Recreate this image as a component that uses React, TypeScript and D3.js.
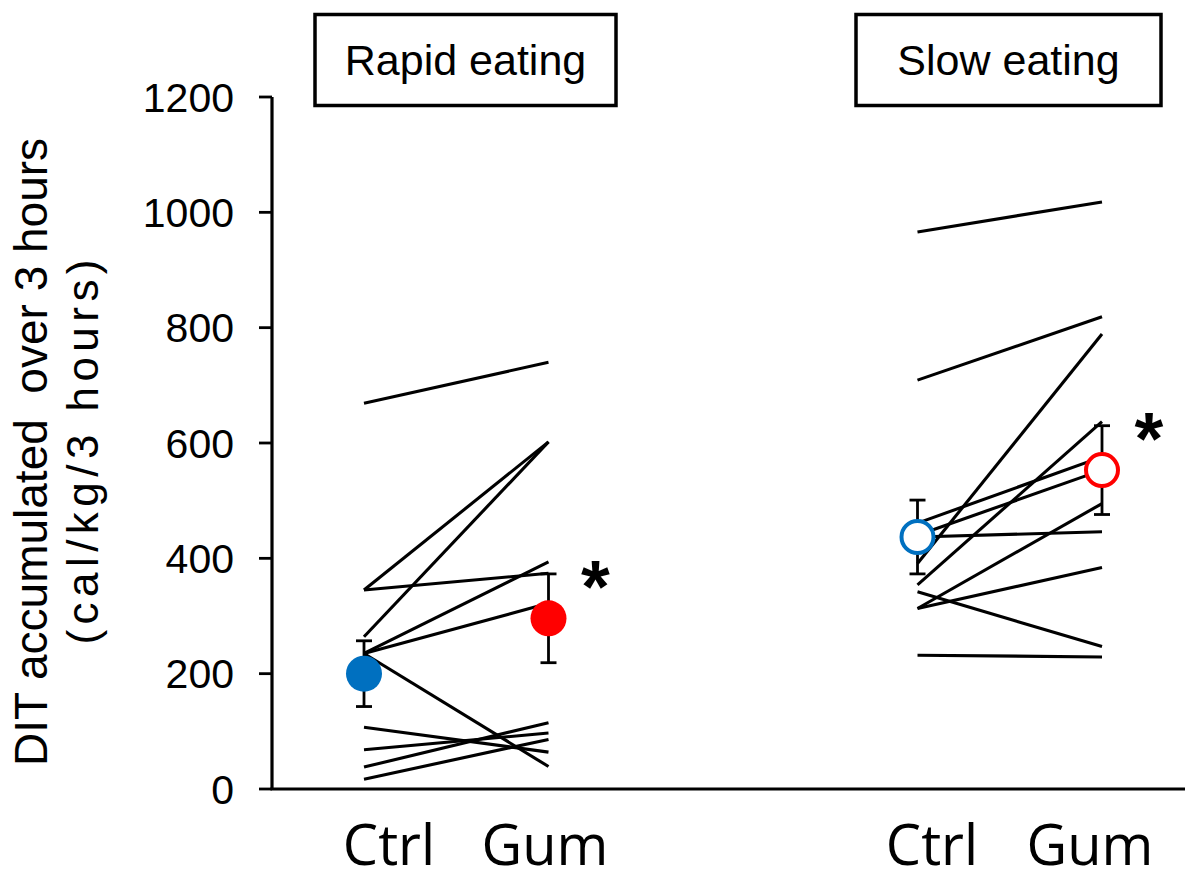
import React from "react";
import * as d3 from "d3";

// ---- data ----
const yTicks = [0, 200, 400, 600, 800, 1000, 1200];
const groupTitles = ["Rapid eating", "Slow eating"];
const conditionLabels = ["Ctrl", "Gum"];

// individual subjects (Ctrl -> Gum)
const rapidCtrl = [669, 345, 345, 264, 235, 235, 235, 107, 68, 38, 17];
const rapidGum = [740, 602, 374, 602, 394, 322, 39, 64, 97, 115, 86];
const slowCtrl = [966, 709, 391, 354, 461, 440, 313, 437, 313, 342, 232];
const slowGum = [1018, 819, 789, 637, 576, 553, 495, 446, 384, 247, 229];

// group means and SE
const meanCtrl = [200, 437];
const meanGum = [296, 553];
const errCtrl = [57, 64];
const errGum = [77, 77];

const W = 1185;
const H = 874;
const FONT = "'Liberation Sans', Arial, sans-serif";
const FONT2 = "'Open Sans', 'Noto Sans', sans-serif";
const BLUE = "#0070C0";
const RED = "#FF0000";

export default function App() {
  const y = d3.scaleLinear().domain([0, 1200]).range([789, 97]);
  const x = d3.scaleLinear().domain([0, 4]).range([364, 1102]);
  const axisX = 272;

  const groups = [
    { ctrl: rapidCtrl, gum: rapidGum, cx: x(0), gx: x(1), filled: true, box: [315, 616], cl: [389, 545] },
    { ctrl: slowCtrl, gum: slowGum, cx: x(3), gx: x(4), filled: false, box: [856, 1161], cl: [932, 1090] },
  ];

  const line = d3.line<[number, number]>().x((d) => d[0]).y((d) => d[1]);

  return (
    <svg width={W} height={H} style={{ position: "absolute", left: 0, top: 0, background: "#fff" }}>
      {/* axes */}
      <line x1={axisX} x2={axisX} y1={y(1200)} y2={y(0)} stroke="#000" strokeWidth={3.2} />
      <line x1={axisX - 1.6} x2={W} y1={y(0)} y2={y(0)} stroke="#000" strokeWidth={3.2} />
      {yTicks.map((t) => (
        <g key={t}>
          <line x1={axisX - 13} x2={axisX} y1={y(t)} y2={y(t)} stroke="#000" strokeWidth={2.8} />
          <text x={234} y={y(t)} dy="0.36em" textAnchor="end" fontFamily={FONT} fontSize={41} fill="#000">
            {t}
          </text>
        </g>
      ))}
      {/* y title */}
      <text transform={`translate(47,452) rotate(-90)`} textAnchor="middle" fontFamily={FONT} fontSize={46} fill="#000" xmlSpace="preserve">
        {"DIT accumulated  over 3 hours"}
      </text>
      <text transform={`translate(98,452) rotate(-90)`} textAnchor="middle" fontFamily={FONT} fontSize={44} fill="#000" textLength={385} lengthAdjust="spacing">
        (cal/kg/3 hours)
      </text>

      {groups.map((g, gi) => (
        <g key={gi}>
          {/* title box */}
          <rect x={g.box[0]} y={14.5} width={g.box[1] - g.box[0]} height={91} fill="#fff" stroke="#000" strokeWidth={3.5} />
          <text x={(g.box[0] + g.box[1]) / 2} y={75} textAnchor="middle" fontFamily={FONT} fontSize={43} fill="#000">
            {groupTitles[gi]}
          </text>
          {/* subject lines */}
          {g.ctrl.map((c, i) => (
            <path key={i} d={line([[g.cx, y(c)], [g.gx, y(g.gum[i])]]) || ""} stroke="#000" strokeWidth={3.1} fill="none" />
          ))}
          {/* error bars */}
          {[
            [g.cx, meanCtrl[gi], errCtrl[gi]],
            [g.gx, meanGum[gi], errGum[gi]],
          ].map(([px, m, e], k) => (
            <g key={k} stroke="#000" strokeWidth={2.8}>
              <line x1={px} x2={px} y1={y(m + e)} y2={y(m - e)} />
              <line x1={px - 8} x2={px + 8} y1={y(m + e)} y2={y(m + e)} />
              <line x1={px - 8} x2={px + 8} y1={y(m - e)} y2={y(m - e)} />
            </g>
          ))}
          {/* means */}
          {g.filled ? (
            <>
              <circle cx={g.cx} cy={y(meanCtrl[gi])} r={18} fill={BLUE} />
              <circle cx={g.gx} cy={y(meanGum[gi])} r={18} fill={RED} />
            </>
          ) : (
            <>
              <circle cx={g.cx} cy={y(meanCtrl[gi])} r={16} fill="#fff" stroke={BLUE} strokeWidth={4} />
              <circle cx={g.gx} cy={y(meanGum[gi])} r={16} fill="#fff" stroke={RED} strokeWidth={4} />
            </>
          )}
          {/* significance */}
          <text x={g.gx + 47} y={y(meanGum[gi] + errGum[gi]) + 38} textAnchor="middle" fontFamily={FONT} fontSize={74} fontWeight="bold" fill="#000">
            *
          </text>
          {/* condition labels */}
          {conditionLabels.map((lab, k) => (
            <text key={lab} x={g.cl[k]} y={865} textAnchor="middle" fontFamily={FONT2} fontSize={56} fill="#000">
              {lab}
            </text>
          ))}
        </g>
      ))}
    </svg>
  );
}
